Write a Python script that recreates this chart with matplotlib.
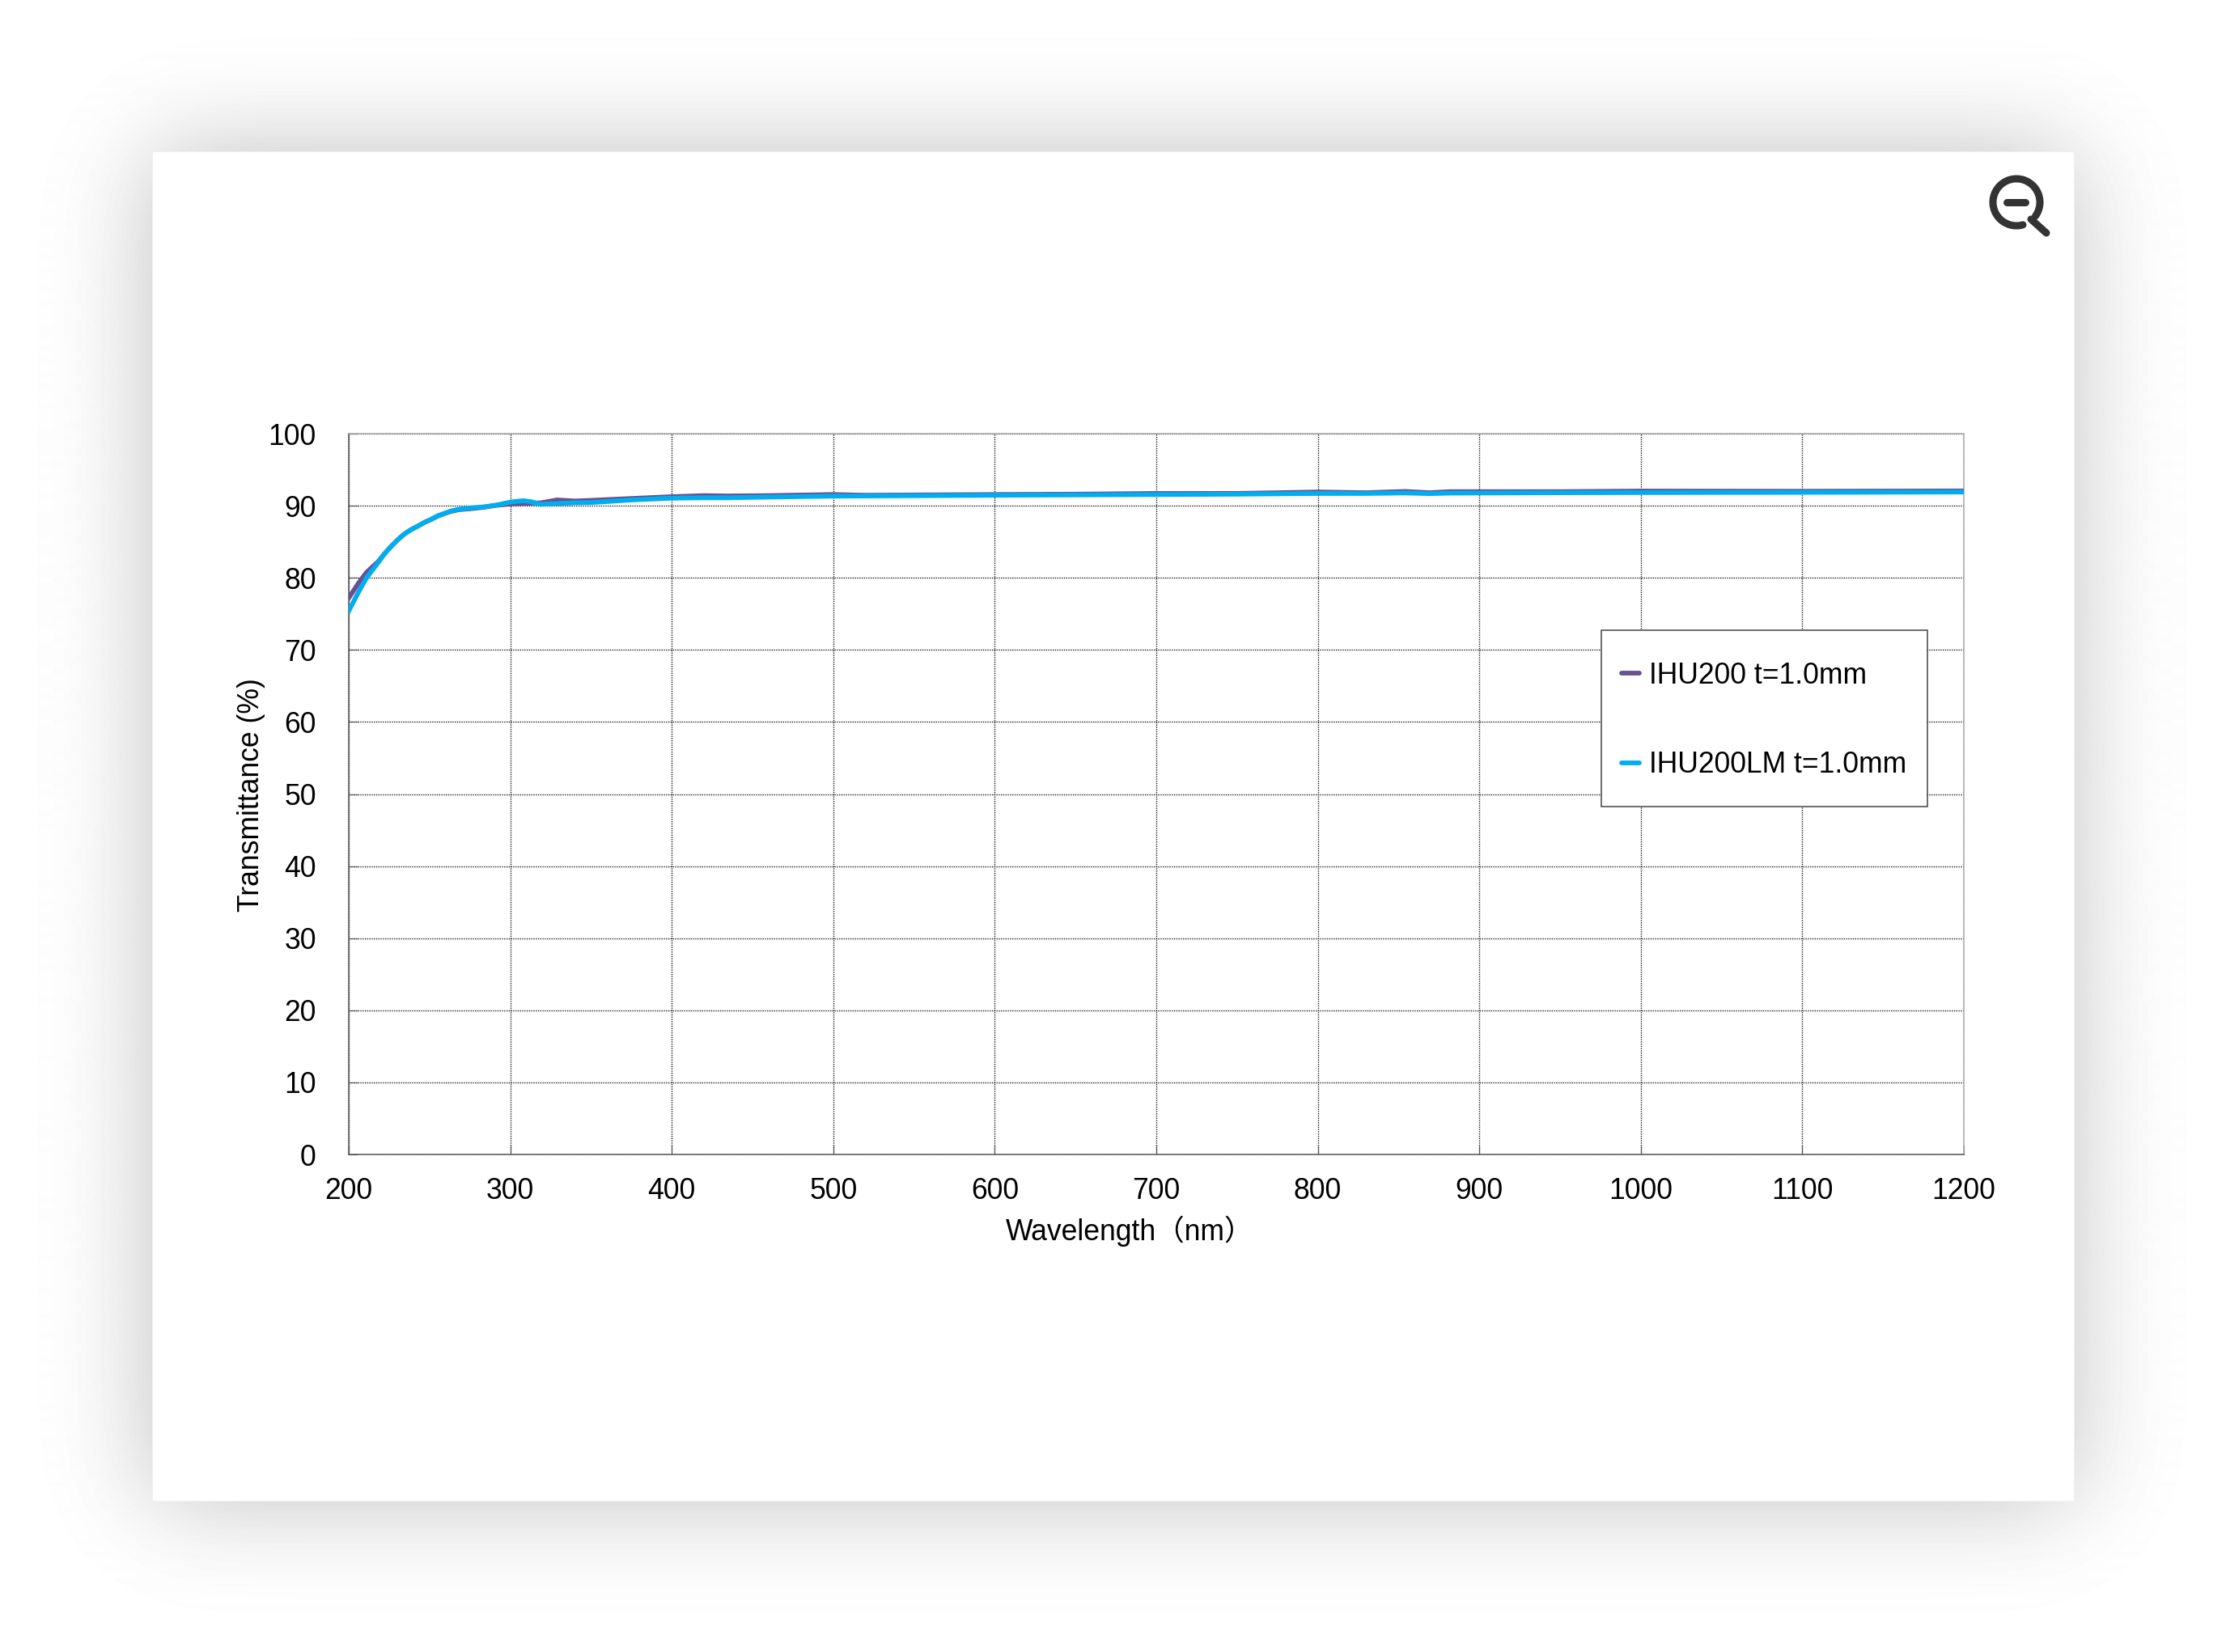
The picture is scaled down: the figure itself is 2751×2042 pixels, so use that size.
"""Transmittance of IHU200 / IHU200LM on a white card with a soft shadow."""
import math

import matplotlib

matplotlib.use("Agg")
import matplotlib.pyplot as plt
import numpy as np
from matplotlib.patches import Rectangle
from matplotlib.transforms import IdentityTransform

W, H = 2751, 2042
DPI = 100
FONT = ["Liberation Sans", "Noto Sans CJK JP", "DejaVu Sans"]

wavelength = [200, 206, 211, 218, 222, 226, 230, 234, 238, 243, 247, 251, 255, 259, 263,
              268, 276, 284, 291, 300, 308, 313, 319, 329, 340, 351, 375, 400, 420, 434,
              460, 500, 520, 560, 600, 650, 700, 750, 800, 830, 854, 869, 882, 950, 1000,
              1100, 1200]
ihu200 = [77.2, 79.25, 80.75, 82.2, 83.3, 84.3, 85.2, 86.0, 86.6, 87.2, 87.7, 88.1,
          88.55, 88.9, 89.2, 89.45, 89.6, 89.8, 90.05, 90.25, 90.33, 90.35, 90.4, 90.8,
          90.65, 90.75, 91.0, 91.25, 91.4, 91.35, 91.4, 91.55, 91.45, 91.5, 91.55, 91.6,
          91.7, 91.7, 91.9, 91.8, 91.98, 91.8, 91.95, 91.95, 92.03, 92.0, 92.05]
ihu200lm = [75.4, 78.0, 80.0, 82.05, 83.3, 84.3, 85.2, 86.0, 86.6, 87.2, 87.7, 88.1,
            88.6, 88.9, 89.25, 89.5, 89.7, 89.85, 90.07, 90.5, 90.7, 90.55, 90.2, 90.3,
            90.4, 90.45, 90.8, 91.05, 91.1, 91.1, 91.2, 91.33, 91.35, 91.4, 91.45, 91.5,
            91.55, 91.6, 91.7, 91.7, 91.77, 91.68, 91.75, 91.8, 91.82, 91.85, 91.9]
x_ticks = list(range(200, 1201, 100))
y_ticks = list(range(0, 101, 10))
labels = ["IHU200 t=1.0mm", "IHU200LM t=1.0mm"]
colors = ["#6b5090", "#00aeef"]

plt.rcParams["font.family"] = FONT

fig = plt.figure(figsize=(W / DPI, H / DPI), dpi=DPI, facecolor="white")

# page layer works in image pixels
page = fig.add_axes([0, 0, 1, 1])
page.set_xlim(0, W)
page.set_ylim(H, 0)
page.axis("off")

card_l, card_t, card_r, card_b = 187.5, 187.5, 2562.5, 1854.5


def _edge(n, lo, hi, sigma=65.0):
    erf = np.vectorize(math.erf)
    t = np.arange(n) + 0.5
    return 0.5 * (erf((t - lo) / (sigma * 2**0.5)) - erf((t - hi) / (sigma * 2**0.5)))


shadow = 0.25 * np.outer(_edge(H, card_t, card_b), _edge(W, card_l, card_r))
page.imshow(1 - shadow, cmap="gray", vmin=0, vmax=1, extent=(0, W, H, 0), aspect="auto")
page.add_patch(Rectangle((card_l, card_t), card_r - card_l, card_b - card_t,
                         facecolor="white", edgecolor="#f0f0f0", linewidth=0.8))

# zoom-out icon
icon_c = (2492, 250)
theta = np.radians(np.linspace(36, -286, 120))
page.plot(icon_c[0] + 29 * np.cos(theta), icon_c[1] + 29 * np.sin(theta),
          color="#333333", lw=6.5, solid_capstyle="round")
page.plot([2480, 2503], [250, 250], color="#333333", lw=6.5, solid_capstyle="round")
page.plot([2510, 2529], [271, 288], color="#333333", lw=6.5, solid_capstyle="round")

# chart
plot_l, plot_t, plot_r, plot_b = 431, 536, 2427, 1427
ax = fig.add_axes([plot_l / W, 1 - plot_b / H, (plot_r - plot_l) / W, (plot_b - plot_t) / H])
ax.patch.set_visible(False)
ax.plot(wavelength, ihu200, color=colors[0], lw=4.2, label=labels[0], zorder=3)
ax.plot(wavelength, ihu200lm, color=colors[1], lw=4.2, label=labels[1], zorder=4)
ax.set_xlim(200, 1200)
ax.set_ylim(0, 100)
ax.set_xticks(x_ticks)
ax.set_yticks(y_ticks)
ax.grid(True, color="#222222", linestyle=(0, (1, 1)), linewidth=1.0)
ax.set_axisbelow(True)
ax.tick_params(direction="in", length=8, width=0.8, color="#555555", labelsize=25.6)
ax.tick_params(axis="x", pad=20)
ax.tick_params(axis="y", pad=29)
for side in ("left", "bottom"):
    ax.spines[side].set_color("#555555")
    ax.spines[side].set_linewidth(1.1)
for side in ("top", "right"):
    ax.spines[side].set_color("#aaaaaa")
    ax.spines[side].set_linewidth(1.1)

ax.set_xlabel("Wavelength（nm）", fontsize=25.6, va="center")
ax.xaxis.set_label_coords((1396 - plot_l) / (plot_r - plot_l), -(1522 - plot_b) / (plot_b - plot_t))
ax.set_ylabel("Transmittance (%)", fontsize=25.6, va="center")
ax.yaxis.set_label_coords((310 - plot_l) / (plot_r - plot_l), (plot_b - 983) / (plot_b - plot_t))

# legend box is fixed in pixels, the entries sit on top of it
box_l, box_t, box_r, box_b = 1979, 779, 2382, 997
ax.add_patch(Rectangle((box_l, box_t), box_r - box_l, box_b - box_t, transform=page.transData,
                       facecolor="white", edgecolor="#444444", linewidth=1.1, zorder=5))
leg = ax.legend(loc="center", bbox_to_anchor=((box_l + box_r) / 2, H - 890.5),
                bbox_transform=IdentityTransform(), frameon=False, fontsize=25.6,
                handlelength=0.6, handletextpad=0.36, labelspacing=2.12, borderpad=0)
leg.set_zorder(6)
for line in leg.get_lines():
    line.set_solid_capstyle("round")

fig.savefig("out.png", dpi=DPI)
plt.close(fig)
